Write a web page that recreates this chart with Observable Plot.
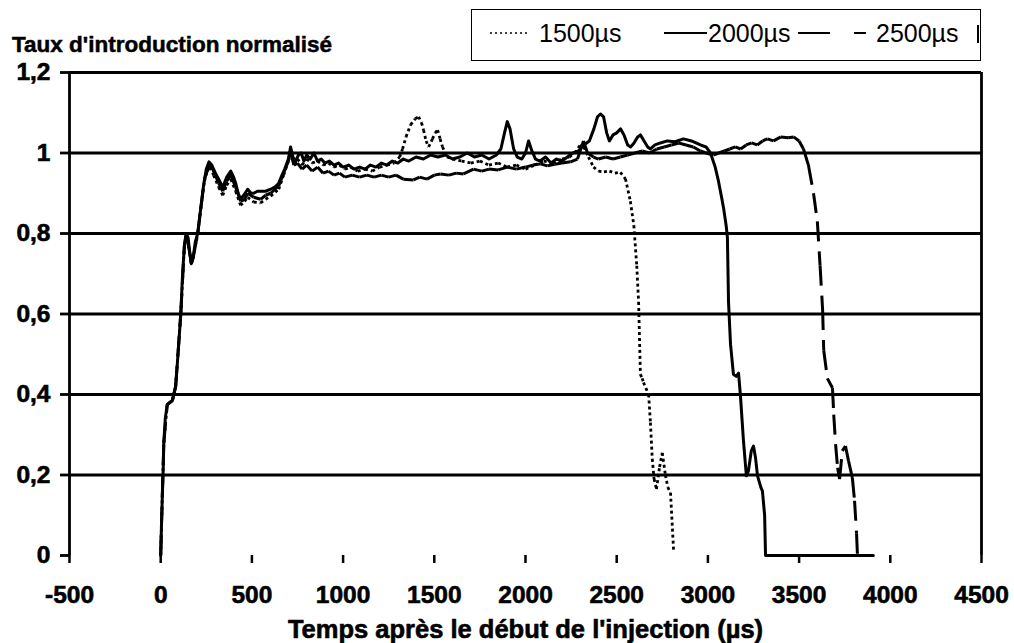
<!DOCTYPE html>
<html>
<head>
<meta charset="utf-8">
<script src="https://cdn.jsdelivr.net/npm/d3@7"></script>
<script src="https://cdn.jsdelivr.net/npm/@observablehq/plot@0.6"></script>
<style>
  html, body { margin: 0; padding: 0; background: #fff; }
  #wrap { position: relative; width: 1014px; height: 643px; overflow: hidden; background: #fff; }
  #header { position: relative; width: 1014px; height: 60px; }
  #title { position: absolute; left: 12px; top: 34px; font: bold 22.5px "Liberation Sans", Arial, sans-serif; line-height: 1; -webkit-text-stroke: 0.5px #000; color: #000; white-space: nowrap; }
  #legendBox { position: absolute; left: 471px; top: 9px; width: 508px; height: 50px; border: 1.5px solid #000; }
  .legText { position: absolute; top: 21px; font: 25px "Liberation Sans", Arial, sans-serif; line-height: 1; color: #000; white-space: nowrap; }
  #legSvg { position: absolute; left: 0; top: 0; }
  g[aria-label="y-axis tick label"], g[aria-label="x-axis tick label"] { stroke: #000; stroke-width: 0.6px; }
</style>
</head>
<body>
<div id="wrap">
  <div id="header">
    <div id="title"></div>
    <div id="legendBox"></div>
    <svg id="legSvg" width="1014" height="60">
      <line x1="490" x2="527" y1="33" y2="33" stroke="#000" stroke-width="1.5" stroke-dasharray="2,3"/>
      <line x1="664" x2="707" y1="33" y2="33" stroke="#000" stroke-width="2"/>
      <line x1="798" x2="866" y1="33" y2="33" stroke="#000" stroke-width="2" stroke-dasharray="32,24"/>
      <line x1="978" x2="978" y1="25" y2="43" stroke="#000" stroke-width="2"/>
    </svg>
    <div class="legText" id="leg0" style="left:539px"></div>
    <div class="legText" id="leg1" style="left:708px"></div>
    <div class="legText" id="leg2" style="left:876px"></div>
  </div>
  <div id="chart"></div>
</div>
<script>
// ---- Texts ----
const chartTitle = "Taux d'introduction normalisé";
const xTitle = "Temps après le début de l'injection (µs)";
const seriesNames = ["1500µs", "2000µs", "2500µs"];

// ---- Ticks ----
const xTicks = [-500, 0, 500, 1000, 1500, 2000, 2500, 3000, 3500, 4000, 4500];
const xTickLabels = ["-500", "0", "500", "1000", "1500", "2000", "2500", "3000", "3500", "4000", "4500"];
const yTicks = [0, 0.2, 0.4, 0.6, 0.8, 1, 1.2];
const yTickLabels = ["0", "0,2", "0,4", "0,6", "0,8", "1", "1,2"];
const yGrid = [0.2, 0.4, 0.6, 0.8, 1, 1.2];

// ---- Series (time µs, normalised rate) ----
const serie1500 = [
  [0,0],[4,0.07],[9,0.15],[17,0.28],[36,0.375],[64,0.385],[82,0.42],[110,0.6],[130,0.77],[140,0.8],[160,0.75],[168,0.725],[178,0.74],[203,0.8],[219,0.86],[240,0.93],[255,0.955],[272,0.965],[290,0.945],[318,0.915],[340,0.895],[362,0.92],[384,0.935],[411,0.905],[438,0.87],[460,0.88],[477,0.89],[510,0.878],[548,0.876],[575,0.885],[603,0.893],[647,0.91],[674,0.945],[700,0.98],[712,1.0],[730,0.975],[750,0.985],[775,0.97],[800,0.985],[830,0.975],[860,0.98],[890,0.97],[920,0.975],[950,0.965],[980,0.97],[1010,0.96],[1040,0.965],[1080,0.955],[1120,0.96],[1160,0.955],[1200,0.965],[1240,0.97],[1280,0.975],[1310,0.99],[1326,1.01],[1345,1.04],[1370,1.07],[1395,1.085],[1414,1.09],[1430,1.075],[1441,1.057],[1455,1.03],[1469,1.015],[1490,1.035],[1505,1.05],[1518,1.057],[1532,1.035],[1545,1.015],[1570,0.99],[1600,0.985],[1650,0.98],[1700,0.975],[1750,0.98],[1800,0.97],[1850,0.975],[1900,0.965],[1950,0.97],[2000,0.96],[2050,0.97],[2100,0.98],[2150,0.975],[2200,0.985],[2240,0.99],[2270,1.0],[2300,1.02],[2320,1.015],[2345,0.99],[2373,0.965],[2400,0.955],[2430,0.953],[2460,0.955],[2490,0.95],[2520,0.952],[2548,0.936],[2575,0.88],[2594,0.82],[2610,0.72],[2620,0.63],[2630,0.45],[2640,0.44],[2647,0.43],[2675,0.4],[2685,0.33],[2695,0.24],[2705,0.19],[2718,0.165],[2735,0.22],[2750,0.255],[2767,0.2],[2780,0.17],[2795,0.156],[2812,0.012]
];
const serie2000 = [
  [0,0],[4,0.07],[9,0.15],[14,0.22],[17,0.28],[25,0.34],[36,0.375],[50,0.38],[64,0.385],[82,0.42],[95,0.5],[110,0.6],[120,0.7],[130,0.77],[140,0.8],[150,0.79],[160,0.75],[168,0.725],[178,0.74],[190,0.78],[203,0.8],[219,0.86],[235,0.92],[250,0.96],[265,0.978],[280,0.97],[300,0.95],[318,0.935],[340,0.915],[362,0.94],[384,0.955],[400,0.94],[411,0.925],[425,0.9],[438,0.885],[455,0.895],[477,0.91],[495,0.9],[510,0.9],[530,0.905],[548,0.905],[575,0.905],[603,0.91],[625,0.915],[647,0.925],[665,0.945],[680,0.96],[700,0.985],[712,1.015],[725,0.99],[740,0.98],[755,0.995],[770,1.0],[785,0.98],[800,0.995],[820,0.985],[840,1.0],[860,0.98],[880,0.985],[900,0.975],[925,0.98],[950,0.97],[975,0.975],[1000,0.965],[1030,0.97],[1060,0.96],[1090,0.965],[1120,0.96],[1150,0.97],[1180,0.965],[1210,0.975],[1240,0.97],[1270,0.98],[1300,0.975],[1330,0.985],[1360,0.98],[1400,0.99],[1440,0.985],[1480,0.995],[1520,0.99],[1560,0.995],[1600,0.985],[1640,0.99],[1680,1.0],[1720,0.99],[1760,0.995],[1800,0.985],[1840,0.995],[1865,1.01],[1885,1.05],[1900,1.078],[1915,1.06],[1935,1.01],[1955,0.99],[1980,0.985],[2000,1.0],[2017,1.03],[2035,1.005],[2055,0.985],[2080,0.98],[2110,0.99],[2140,0.975],[2170,0.985],[2200,0.98],[2230,0.99],[2260,1.0],[2290,1.005],[2320,1.02],[2350,1.03],[2375,1.06],[2395,1.09],[2411,1.097],[2428,1.09],[2445,1.05],[2460,1.03],[2480,1.045],[2500,1.05],[2521,1.06],[2540,1.045],[2560,1.02],[2576,1.015],[2595,1.025],[2615,1.04],[2630,1.045],[2650,1.03],[2670,1.015],[2685,1.01],[2710,1.02],[2740,1.025],[2778,1.03],[2820,1.028],[2866,1.035],[2910,1.03],[2959,1.02],[2990,1.015],[3014,1.0],[3040,0.965],[3058,0.93],[3075,0.89],[3087,0.86],[3100,0.82],[3107,0.79],[3113,0.63],[3124,0.525],[3140,0.45],[3155,0.445],[3168,0.453],[3178,0.4],[3195,0.285],[3211,0.198],[3222,0.21],[3238,0.26],[3250,0.272],[3261,0.243],[3272,0.198],[3290,0.17],[3299,0.16],[3311,0.1],[3316,0],[3907,0]
];
const serie2500 = [
  [0,0],[4,0.07],[9,0.15],[17,0.28],[36,0.375],[64,0.385],[82,0.42],[110,0.6],[130,0.77],[140,0.8],[160,0.75],[168,0.725],[178,0.74],[203,0.8],[219,0.86],[240,0.935],[258,0.96],[275,0.97],[295,0.95],[318,0.925],[340,0.905],[362,0.93],[384,0.945],[411,0.915],[438,0.88],[460,0.885],[477,0.9],[510,0.89],[548,0.885],[575,0.895],[603,0.9],[647,0.918],[674,0.95],[700,0.98],[712,1.005],[730,0.97],[750,0.975],[775,0.96],[800,0.97],[830,0.955],[860,0.965],[890,0.95],[920,0.955],[950,0.945],[980,0.95],[1010,0.94],[1050,0.945],[1090,0.94],[1130,0.945],[1170,0.94],[1210,0.945],[1250,0.94],[1290,0.945],[1330,0.935],[1386,0.933],[1420,0.94],[1460,0.935],[1500,0.945],[1534,0.948],[1580,0.945],[1620,0.95],[1660,0.948],[1715,0.96],[1760,0.955],[1800,0.96],[1850,0.958],[1900,0.965],[1950,0.96],[2000,0.965],[2040,0.97],[2082,0.973],[2120,0.968],[2160,0.972],[2200,0.975],[2247,0.978],[2285,0.985],[2318,1.03],[2340,1.0],[2373,0.99],[2400,0.985],[2440,0.99],[2480,0.985],[2520,0.99],[2560,0.995],[2600,1.0],[2640,1.005],[2680,1.0],[2720,1.01],[2760,1.015],[2800,1.02],[2840,1.025],[2880,1.02],[2920,1.015],[2959,1.005],[2990,1.0],[3030,0.995],[3060,1.0],[3090,1.005],[3120,1.01],[3150,1.015],[3180,1.01],[3210,1.02],[3240,1.025],[3270,1.02],[3300,1.03],[3326,1.035],[3360,1.03],[3400,1.04],[3440,1.038],[3470,1.04],[3500,1.03],[3524,1.01],[3551,0.97],[3579,0.9],[3600,0.83],[3615,0.72],[3629,0.61],[3635,0.51],[3655,0.44],[3683,0.416],[3690,0.35],[3700,0.277],[3711,0.218],[3722,0.19],[3737,0.26],[3754,0.272],[3771,0.235],[3792,0.193],[3804,0.136],[3815,0.054],[3820,0]
];

// segments (dash pattern restarts on each segment, as in the original)
function segments(s) {
  const out = [];
  for (let i = 1; i < s.length; i++) out.push({x1: s[i-1][0], y1: s[i-1][1], x2: s[i][0], y2: s[i][1]});
  return out;
}

document.getElementById("title").textContent = chartTitle;
seriesNames.forEach((n, i) => document.getElementById("leg" + i).textContent = n);

const font = '"Liberation Sans", Arial, sans-serif';
const chart = Plot.plot({
  width: 1014,
  height: 583,
  marginTop: 12,
  marginBottom: 88,
  marginLeft: 69,
  marginRight: 33,
  x: {domain: [-500, 4500], axis: null},
  y: {domain: [0, 1.2], axis: null},
  style: {fontFamily: font, background: "#fff", color: "#000", overflow: "visible"},
  marks: [
    Plot.ruleY(yGrid, {stroke: "#000", strokeWidth: 2.8}),
    Plot.ruleX([-500, 4500], {y1: 0, y2: 1.2, stroke: "#000", strokeWidth: 2.8}),
    Plot.axisY({ticks: yTicks, tickFormat: d => yTickLabels[yTicks.indexOf(d)], tickSize: 9, tickPadding: 10,
      fontSize: 24.5, fontWeight: "bold", strokeWidth: 2.8, label: null}),
    Plot.axisX({ticks: xTicks, tickFormat: d => xTickLabels[xTicks.indexOf(d)], tickSize: 8, tickPadding: 22,
      fontSize: 24.5, fontWeight: "bold", strokeWidth: 2.5, label: null}),
    Plot.link(segments(serie1500), {x1: "x1", y1: "y1", x2: "x2", y2: "y2", stroke: "#000", strokeWidth: 2.8, strokeDasharray: "3,3"}),
    Plot.link(segments(serie2500), {x1: "x1", y1: "y1", x2: "x2", y2: "y2", stroke: "#000", strokeWidth: 3, strokeDasharray: "20,10"}),
    Plot.line(serie2000, {x: d => d[0], y: d => d[1], stroke: "#000", strokeWidth: 3}),
    Plot.text([xTitle], {frameAnchor: "bottom", dy: 74, text: d => d, lineAnchor: "middle", fontSize: 25.5,
      fontWeight: "bold", fill: "#000", stroke: "#000", strokeWidth: 0.6})
  ]
});
document.getElementById("chart").appendChild(chart);
</script>
</body>
</html>
